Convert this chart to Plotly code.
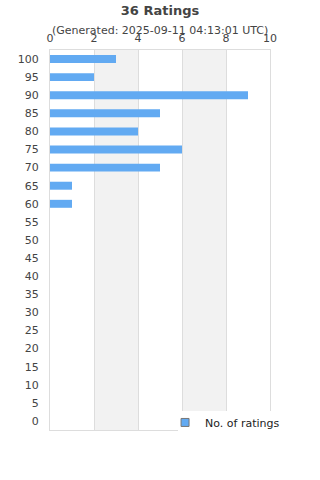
import plotly.graph_objects as go

categories = [str(v) for v in range(0, 105, 5)]
counts = {"100": 3, "95": 2, "90": 9, "85": 5, "80": 4, "75": 6, "70": 5, "65": 1, "60": 1}
values = [counts.get(c, 0) for c in categories]
x_ticks = [0, 2, 4, 6, 8, 10]

bar_color = "#62aaf2"
font = "DejaVu Sans"

fig = go.Figure()
fig.add_trace(go.Bar(
    x=values, y=categories, orientation="h",
    marker=dict(color=bar_color, line=dict(width=0)),
    width=0.44, showlegend=False, hoverinfo="x+y",
))
fig.add_trace(go.Scatter(
    x=[None], y=[None], mode="markers", name="No. of ratings",
    marker=dict(symbol="square", size=8, color=bar_color, line=dict(color="#777", width=1)),
    showlegend=True,
))

shapes = []
for a, b in [(2, 4), (6, 8)]:
    shapes.append(dict(type="rect", xref="x", yref="paper", x0=a, x1=b, y0=0, y1=1,
                       fillcolor="#f2f2f2", line=dict(width=0), layer="below"))
# white backdrop behind the legend (covers the plot frame like the reference)
shapes.append(dict(type="rect", xref="paper", yref="paper", x0=0.5818, x1=1.2, y0=-0.03, y1=0.05,
                   fillcolor="white", line=dict(width=0), layer="above"))

fig.update_layout(
    width=320, height=480,
    margin=dict(l=50, r=50, t=50, b=50),
    paper_bgcolor="white", plot_bgcolor="white",
    font=dict(family=font, color="#444", size=11),
    title=dict(text="<b>36 Ratings</b>", x=0.5, xanchor="center", y=0.978, yanchor="middle",
               font=dict(size=13, color="#444", family=font)),
    annotations=[dict(text="(Generated: 2025-09-11 04:13:01 UTC)", xref="paper", yref="paper",
                      x=0.5, y=1, yshift=20, xanchor="center", yanchor="middle", showarrow=False,
                      font=dict(size=11, color="#444", family=font))],
    shapes=shapes,
    xaxis=dict(range=[0, 10], tickvals=x_ticks, side="top", showgrid=True, gridcolor="#dddddd",
               gridwidth=1, zeroline=False, showline=True, linecolor="#dddddd", mirror=True,
               ticks="", ticklabelstandoff=3, tickfont=dict(size=11, color="#444"), fixedrange=True),
    yaxis=dict(type="category", categoryorder="array", categoryarray=categories,
               showgrid=False, showline=True, linecolor="#dddddd", mirror=True, ticks="",
               ticklabelstandoff=8, tickfont=dict(size=11, color="#444"), fixedrange=True),
    legend=dict(x=0.523, xanchor="left", y=0.058, yanchor="top", bgcolor="rgba(0,0,0,0)",
                font=dict(size=11, color="#222", family=font), borderwidth=0),
    bargap=0.56,
)

fig.write_html("out.html")
